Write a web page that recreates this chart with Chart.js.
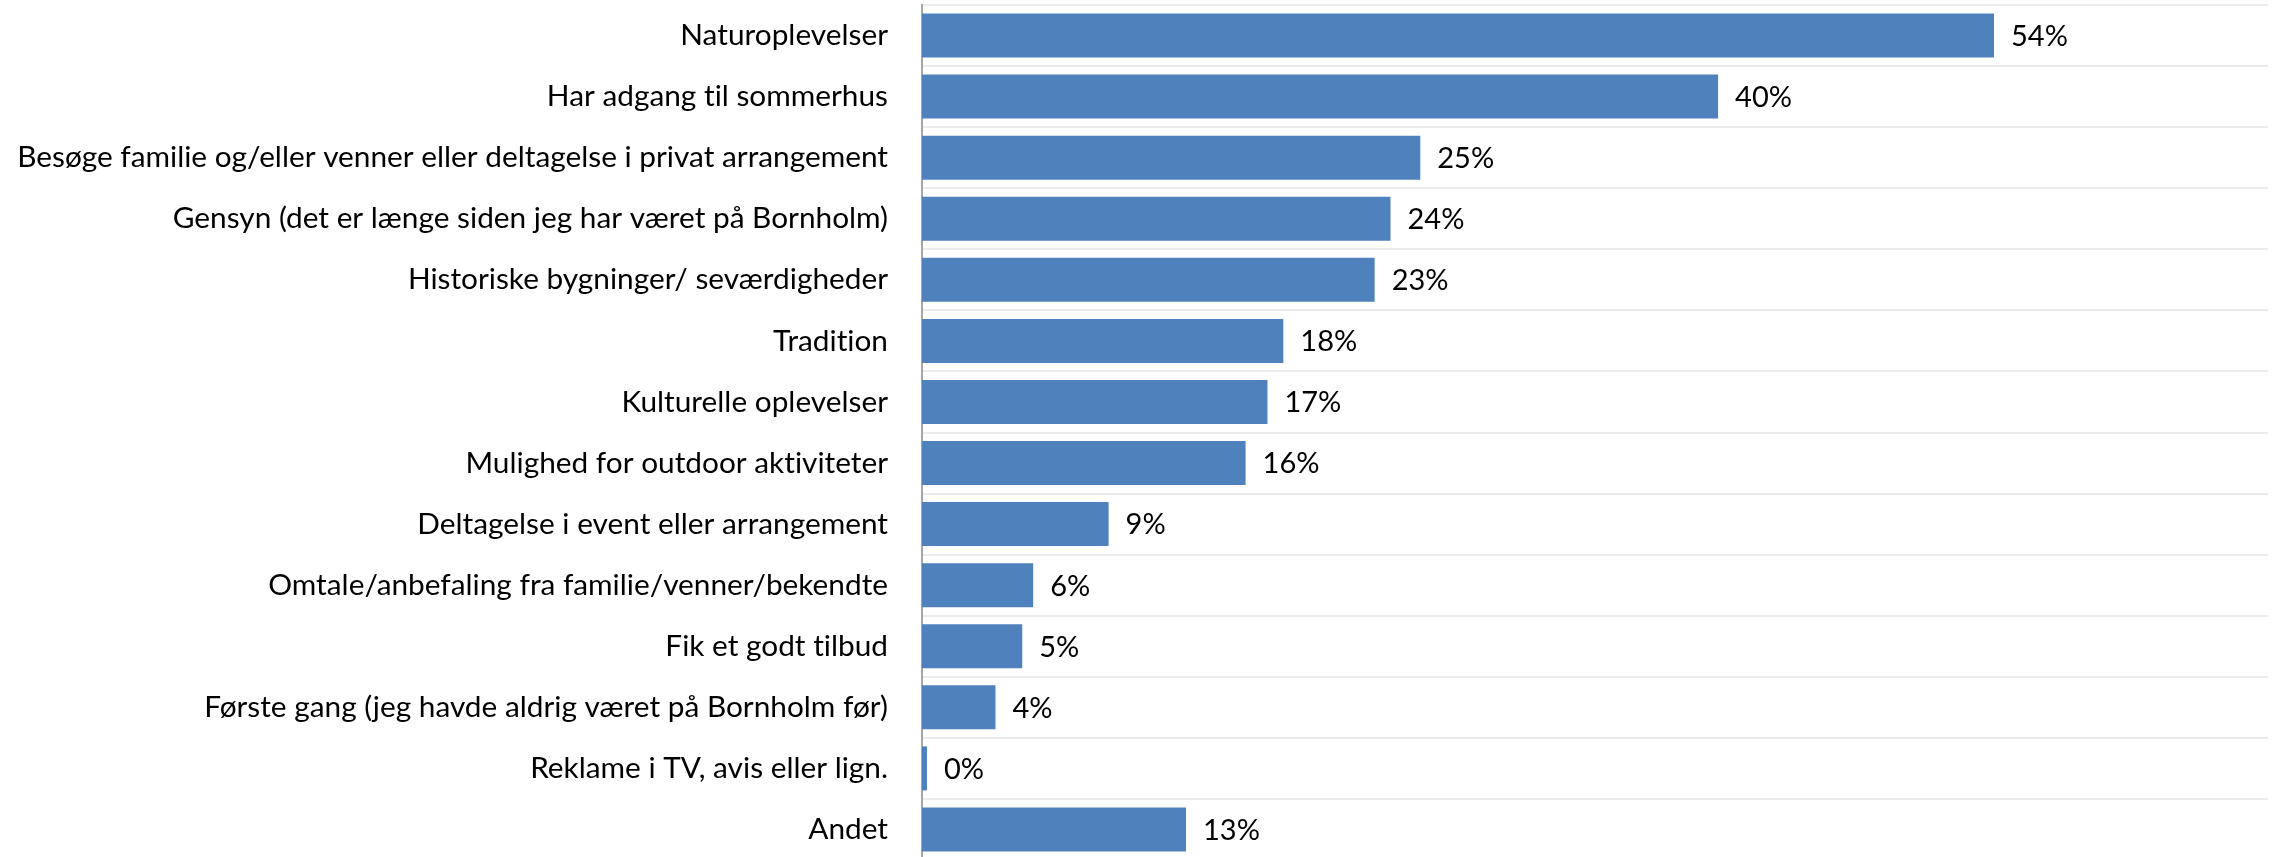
<!DOCTYPE html>
<html>
<head>
<meta charset="utf-8">
<script src="https://cdn.jsdelivr.net/npm/chart.js@4.4.0/dist/chart.umd.min.js"></script>
<style>
  html, body { margin: 0; padding: 0; overflow: hidden; background: #fff; }
  #wrap { position: relative; width: 2275px; height: 861px; }
</style>
</head>
<body>
<div id="wrap"><canvas id="chart"></canvas></div>
<script>
// categories, top to bottom
const categories = [
  "Naturoplevelser",
  "Har adgang til sommerhus",
  "Besøge familie og/eller venner eller deltagelse i privat arrangement",
  "Gensyn (det er længe siden jeg har været på Bornholm)",
  "Historiske bygninger/ seværdigheder",
  "Tradition",
  "Kulturelle oplevelser",
  "Mulighed for outdoor aktiviteter",
  "Deltagelse i event eller arrangement",
  "Omtale/anbefaling fra familie/venner/bekendte",
  "Fik et godt tilbud",
  "Første gang (jeg havde aldrig været på Bornholm før)",
  "Reklame i TV, avis eller lign.",
  "Andet"
];

// share of respondents in percent
const shares = [54.0, 40.1, 25.1, 23.6, 22.8, 18.2, 17.4, 16.3, 9.4, 5.6, 5.05, 3.7, 0.25, 13.3];

const axisMin = 0;
const axisMax = 67.8;

const labelFont = { family: "Lato", size: 29.8 };

// Lato turns "ti" into a ligature, the original font doesn't
const noLigatures = {
  id: "noLigatures",
  beforeDraw(chart) {
    chart.ctx.textRendering = "optimizeSpeed";
  }
};

// percent labels to the right of each bar
const valueLabels = {
  id: "valueLabels",
  afterDatasetsDraw(chart) {
    const ctx = chart.ctx;
    const meta = chart.getDatasetMeta(0);
    ctx.save();
    ctx.font = "29px " + labelFont.family;
    ctx.fillStyle = "#000";
    ctx.textAlign = "left";
    ctx.textBaseline = "middle";
    meta.data.forEach((bar, i) => {
      ctx.fillText(Math.round(shares[i]) + "%", bar.x + 17, bar.y + 1);
    });
    ctx.restore();
  }
};

const ctx = document.getElementById("chart").getContext("2d");
new Chart(ctx, {
  type: "bar",
  data: {
    labels: categories,
    datasets: [
      {
        data: shares,
        backgroundColor: "#4F81BD",
        borderWidth: 0,
        categoryPercentage: 1,
        barPercentage: 0.72
      }
    ]
  },
  options: {
    indexAxis: "y",
    responsive: true,
    maintainAspectRatio: false,
    animation: false,
    layout: { padding: { top: 5, right: 7, bottom: 1, left: 0 } },
    plugins: { legend: { display: false }, tooltip: { enabled: false } },
    scales: {
      x: {
        display: false,
        min: axisMin,
        max: axisMax
      },
      y: {
        grid: { color: "#ebebeb", lineWidth: 2, drawTicks: false },
        border: { display: true, color: "#a6a6a6", width: 2 },
        ticks: {
          autoSkip: false,
          color: "#000",
          font: labelFont,
          padding: 34
        },
        afterFit(scale) {
          scale.width = 922;
          // label padding should not shrink the plot vertically
          scale.paddingTop = 0;
          scale.paddingBottom = 0;
        }
      }
    }
  },
  plugins: [noLigatures, valueLabels]
});
</script>
</body>
</html>
